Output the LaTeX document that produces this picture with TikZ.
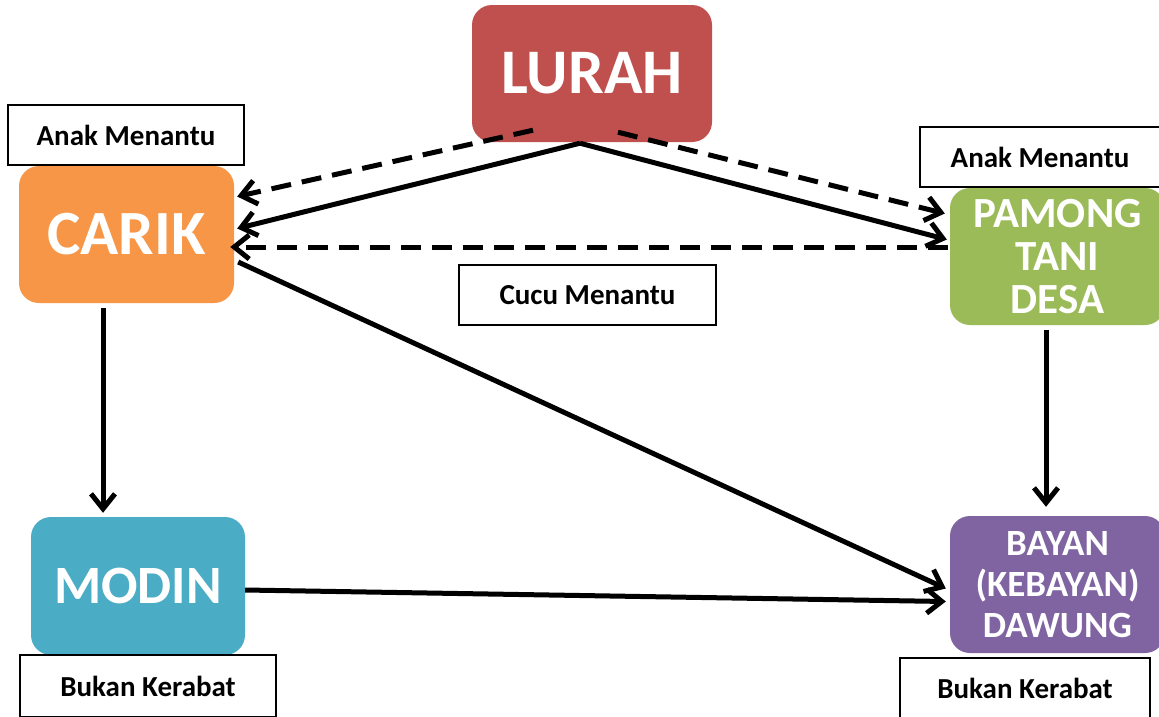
\documentclass[tikz,border=0pt]{standalone}
\usepackage{fontspec}
\setmainfont{Carlito}
\usetikzlibrary{arrows.meta,calc}
\definecolor{lurahc}{HTML}{C0504D}
\definecolor{carikc}{HTML}{F79646}
\definecolor{pamongc}{HTML}{9BBB59}
\definecolor{modinc}{HTML}{4BACC6}
\definecolor{bayanc}{HTML}{8064A2}
\tikzset{
  rolebox/.style={rounded corners=20pt, minimum width=215pt, minimum height=137pt, inner sep=0pt, text=white, align=center},
  labelbox/.style={draw=black, line width=1.8pt, fill=white, inner sep=0pt, font=\bfseries\fontsize{29}{32}\selectfont},
  link/.style={line width=5pt, -{Straight Barb[length=15pt,width=24pt,line width=5pt]}},
  dlink/.style={link, dash pattern=on 20pt off 11pt},
}
\begin{document}
\begin{tikzpicture}[x=1pt,y=-1pt]
\useasboundingbox (0,0) rectangle (1159,716);
% role boxes
\node[rolebox, fill=lurahc, minimum width=240pt, font=\bfseries\fontsize{63.5}{66}\selectfont] (lurah) at (592,73.5) {LURAH};
\node[rolebox, fill=carikc, font=\bfseries\fontsize{63}{66}\selectfont] (carik) at (126.5,234.5) {CARIK};
\node[rolebox, fill=pamongc, font=\bfseries\fontsize{43}{43}\selectfont] (pamong) at (1057.5,256.5) {PAMONG\\TANI\\DESA};
\node[rolebox, fill=modinc, minimum width=214pt, minimum height=138pt, font=\bfseries\fontsize{54}{60}\selectfont] (modin) at (138,586) {MODIN};
\node[rolebox, fill=bayanc, font=\bfseries\fontsize{37}{41}\selectfont] (bayan) at (1057.5,584.5) {BAYAN\\(KEBAYAN)\\DAWUNG};
% label boxes
\node[labelbox, minimum width=236pt, minimum height=60pt] (lab1) at (126,135) {Anak Menantu};
\node[labelbox, minimum width=240pt, minimum height=60pt] (lab2) at (1040,157) {Anak Menantu};
\node[labelbox, minimum width=257pt, minimum height=60pt] (lab3) at (587.5,295) {Cucu Menantu};
\node[labelbox, minimum width=256pt, minimum height=62pt] (lab4) at (148,686) {Bukan Kerabat};
\node[labelbox, minimum width=250pt, minimum height=60pt] (lab5) at (1025,688) {Bukan Kerabat};
% connectors
\draw[dlink] ($(lurah.south)+(-59,-12)$) -- ($(carik.east)+(3,-38)$);
\draw[dlink] ($(lurah.south)+(26,-10)$) -- ($(pamong.west)+(-5,-43)$);
\draw[link] ($(lurah.south)+(-12,1)$) -- ($(carik.east)+(3,-6)$);
\draw[link] ($(lurah.south)+(-12,1)$) -- ($(pamong.west)+(-3,-17)$);
\draw[dlink] ($(pamong.west)+(-2,-9.5)$) -- ($(carik.east)+(-4,12.5)$);
\draw[link] ($(carik.south)+(-23.5,5)$) -- ($(modin.north)+(-35,-4)$);
\draw[link] ($(carik.east)+(4,27.5)$) -- ($(bayan.west)+(-4,4)$);
\draw[link] ($(modin.east)+(0,4)$) -- ($(bayan.west)+(-4,17)$);
\draw[link] ($(pamong.south)+(-11.5,5)$) -- ($(bayan.north)+(-11.5,-9)$);
\end{tikzpicture}
\end{document}
